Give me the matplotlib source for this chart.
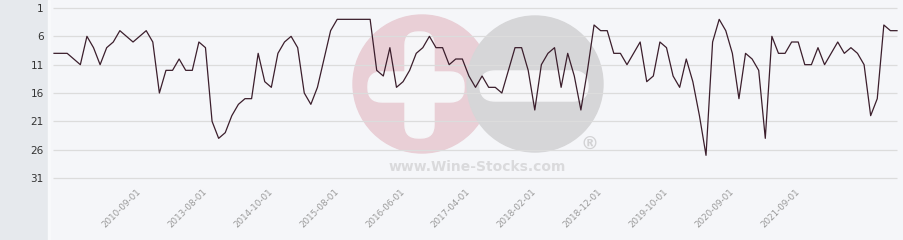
import matplotlib
matplotlib.use("Agg")
import matplotlib.pyplot as plt
from matplotlib.patches import Circle, FancyBboxPatch, Rectangle

# rank per period (1 = best)
ranks = [9, 9, 9, 10, 11, 6, 8, 11, 8, 7, 5, 6, 7, 6, 5, 7, 16, 12, 12, 10,
         12, 12, 7, 8, 21, 24, 23, 20, 18, 17, 17, 9, 14, 15, 9, 7, 6, 8, 16, 18,
         15, 10, 5, 3, 3, 3, 3, 3, 3, 12, 13, 8, 15, 14, 12, 9, 8, 6, 8, 8,
         11, 10, 10, 13, 15, 13, 15, 15, 16, 12, 8, 8, 12, 19, 11, 9, 8, 15, 9, 13,
         19, 12, 4, 5, 5, 9, 9, 11, 9, 7, 14, 13, 7, 8, 13, 15, 10, 14, 20, 27,
         7, 3, 5, 9, 17, 9, 10, 12, 24, 6, 9, 9, 7, 7, 11, 11, 8, 11, 9, 7,
         9, 8, 9, 11, 20, 17, 4, 5, 5]
tick_pos = [13, 23, 33, 43, 53, 63, 73, 83, 93, 103, 113]
tick_labels = ['2010-09-01', '2013-08-01', '2014-10-01', '2015-08-01', '2016-06-01',
               '2017-04-01', '2018-02-01', '2018-12-01', '2019-10-01', '2020-09-01',
               '2021-09-01']
y_ticks = [1, 6, 11, 16, 21, 26, 31]

W, H = 904, 240
fig = plt.figure(figsize=(W / 100, H / 100), dpi=100, facecolor='#f5f6f9')

# background layer: left panel + watermark, in pixel units
bg = fig.add_axes([0, 0, 1, 1], zorder=0)
bg.set_xlim(0, W)
bg.set_ylim(H, 0)
bg.axis('off')
bg.add_patch(Rectangle((0, 0), 48, H, color='#e6e9ed'))
bg.add_patch(Rectangle((48, 0), 2, H, color='#f8f9fb'))
bg.add_patch(Circle((422, 84), 69, color='#e9cfd6'))
bg.add_patch(Circle((535, 84), 68, color='#d6d6d8'))
wc = '#f6f6f8'
bg.add_patch(FancyBboxPatch((405, 32), 29, 106, boxstyle='round,pad=0,rounding_size=13', color=wc))
bg.add_patch(FancyBboxPatch((368, 72), 96, 30, boxstyle='round,pad=0,rounding_size=14', color=wc))
bg.add_patch(FancyBboxPatch((480, 71), 108, 30, boxstyle='round,pad=0,rounding_size=15', color=wc))
bg.text(590, 145, '®', fontsize=13, color='#d2d2d4', ha='center', va='center', fontweight='bold')
bg.text(477, 167, 'www.Wine-Stocks.com', fontsize=10, color='#dadadc', ha='center', va='center',
        fontweight='bold')

# main chart
px_per_i = 6.586
px_per_v = 5.667
x_left = (48 - 54) / px_per_i
x_right = (W - 54) / px_per_i
y_top = 1 - 8 / px_per_v
y_bot = 1 + (182 - 8) / px_per_v

ax = fig.add_axes([48 / W, (H - 182) / H, (W - 48) / W, 182 / H], zorder=1)
ax.patch.set_alpha(0)
ax.set_xlim(x_left, x_right)
ax.set_ylim(y_bot, y_top)
for s in ax.spines.values():
    s.set_visible(False)

ax.hlines(y_ticks, -0.15, len(ranks) - 1, color='#dcdcdc', lw=0.9, zorder=1)
ax.plot(range(len(ranks)), ranks, color='#3b1e2c', lw=0.9, zorder=3)

ax.set_yticks(y_ticks)
ax.set_yticklabels([str(v) for v in y_ticks], fontsize=7.5, color='#333333')
ax.tick_params(axis='y', length=0, pad=3)

ax.set_xticks(tick_pos)
ax.set_xticklabels(tick_labels, rotation=45, ha='right', va='center',
                   rotation_mode='anchor', fontsize=6.3, color='#999999')
ax.tick_params(axis='x', length=0, pad=6)

fig.savefig('out.png', dpi=100, facecolor=fig.get_facecolor())
